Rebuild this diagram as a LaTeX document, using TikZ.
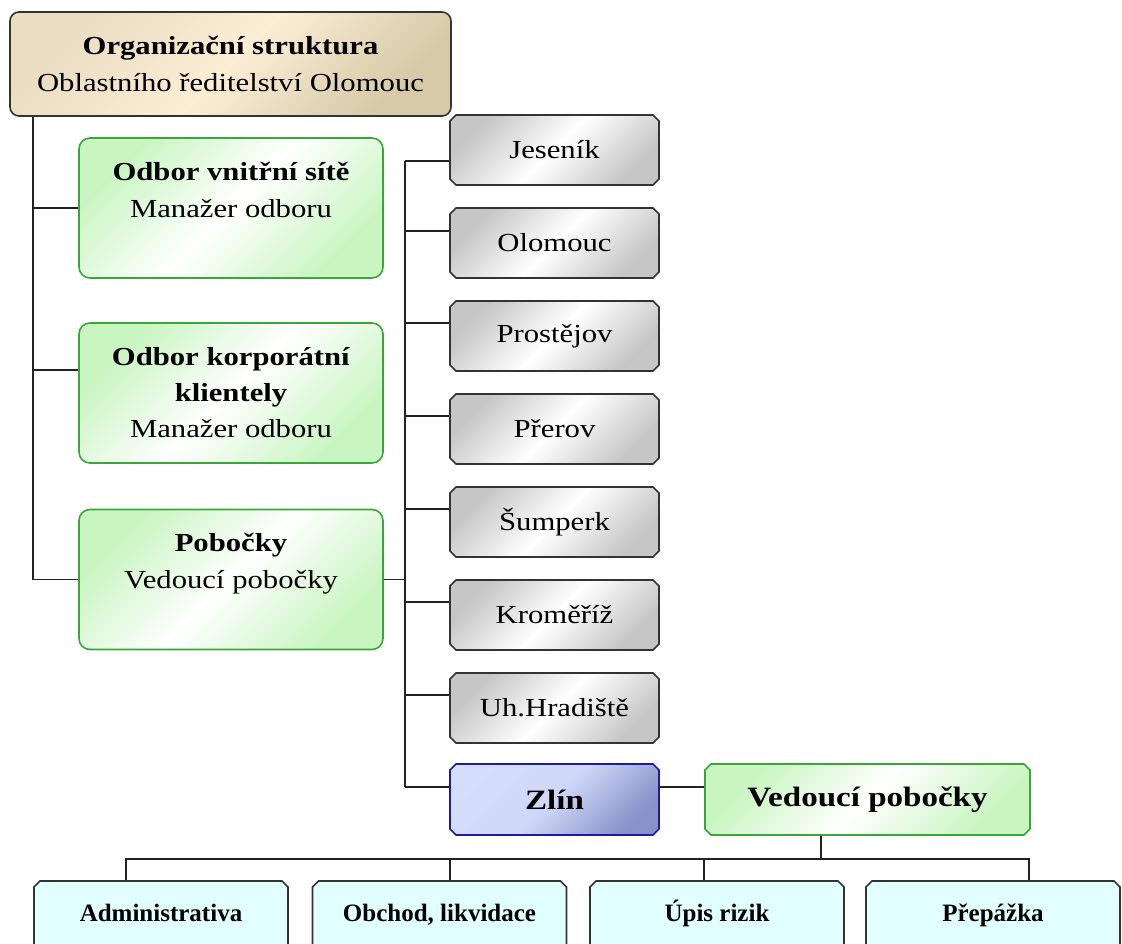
\documentclass[tikz,border=0pt]{standalone}
\usepackage{fontspec}
\setmainfont{Liberation Serif}[FakeStretch=1.18]
\newfontfamily\plainfont{Liberation Serif}
\usetikzlibrary{shapes.misc,calc}
\definecolor{lineclr}{HTML}{222222}
\definecolor{topA}{HTML}{EADDC2}
\definecolor{topB}{HTML}{FCEDD5}
\definecolor{topC}{HTML}{D6CAA8}
\definecolor{grnborder}{HTML}{3AA63A}
\definecolor{grnfill}{HTML}{C8F5C0}
\definecolor{grayfill}{HTML}{C6C6C6}
\definecolor{grayborder}{HTML}{333333}
\definecolor{blueA}{HTML}{D4DDFB}
\definecolor{blueB}{HTML}{8A92CA}
\definecolor{blueborder}{HTML}{1C1CA0}
\definecolor{cyanfill}{HTML}{E2FFFF}
\tikzset{
  conn/.style={draw=lineclr, line width=1.7pt},
  regfont/.style={font=\fontsize{26}{37}\selectfont},
  topbox/.style={rectangle, rounded corners=9pt, draw=grayborder, line width=1.6pt,
    left color=topA, right color=topC, middle color=topB, shading angle=45,
    minimum width=441pt, minimum height=104pt, inner sep=0pt, align=center, regfont},
  greenbox/.style={rectangle, rounded corners=11pt, draw=grnborder, line width=1.6pt,
    left color=grnfill, right color=grnfill, middle color=white, shading angle=45,
    minimum width=304pt, minimum height=140pt, inner sep=0pt, align=center, regfont},
  chambox/.style={chamfered rectangle, chamfered rectangle xsep=3pt, chamfered rectangle ysep=3pt,
    line width=1.6pt, inner sep=0pt, align=center},
  graybox/.style={chambox, draw=grayborder,
    left color=grayfill, right color=grayfill, middle color=white, shading angle=45,
    minimum width=209pt, minimum height=70pt, regfont},
  zlinbox/.style={chambox, draw=blueborder,
    left color=blueA, right color=blueB, middle color=blueA!92!blueB, shading angle=45,
    minimum width=209pt, minimum height=71pt, font=\fontsize{28}{34}\selectfont\bfseries},
  vedbox/.style={chambox, draw=grnborder,
    left color=grnfill, right color=grnfill, middle color=white, shading angle=45,
    minimum width=325pt, minimum height=71pt, font=\fontsize{28}{34}\selectfont\bfseries},
  cyanbox/.style={chambox, draw=grayborder, fill=cyanfill,
    minimum width=254pt, minimum height=96pt, font=\plainfont\fontsize{25}{28}\selectfont\bfseries},
}
\begin{document}
\begin{tikzpicture}[x=1pt,y=-1pt]
\useasboundingbox (0,0) rectangle (1122,944);
\clip (0,0) rectangle (1122,944);

% top
\node[topbox] (top) at (230.5,64) {\textbf{Organizační struktura}\\Oblastního ředitelství Olomouc};

% green boxes
\node[greenbox] (g1) at (231,208) {\textbf{Odbor vnitřní sítě}\\Manažer odboru\\[-12pt]\strut};
\node[greenbox, font=\fontsize{26}{36}\selectfont] (g2) at (231,393) {\textbf{Odbor korporátní}\\\textbf{klientely}\\Manažer odboru};
\node[greenbox] (g3) at (231,579.5) {\textbf{Pobočky}\\Vedoucí pobočky\\[-10pt]\strut};

% gray boxes
\node[graybox] (jes) at (554.5,150) {Jeseník};
\node[graybox] (olo) at (554.5,243) {Olomouc};
\node[graybox] (pro) at (554.5,336) {Prostějov};
\node[graybox] (per) at (554.5,429) {Přerov};
\node[graybox] (sum) at (554.5,522) {Šumperk};
\node[graybox] (kro) at (554.5,615) {Kroměříž};
\node[graybox] (uhh) at (554.5,708) {Uh.Hradiště};
\node[zlinbox] (zli) at (554.5,799.5) {Zlín};
\node[vedbox] (ved) at (867.5,799.5) {Vedoucí pobočky};

% bottom boxes
\node[cyanbox] (adm) at (161,929) {\vphantom{Ú}Administrativa\\\strut};
\node[cyanbox] (obc) at (439.5,929) {\vphantom{Ú}Obchod, likvidace\\\strut};
\node[cyanbox] (upi) at (717,929) {\vphantom{Ú}Úpis rizik\\\strut};
\node[cyanbox] (prp) at (993,929) {\vphantom{Ú}Přepážka\\\strut};

% trunk on the left
\coordinate (tr) at ($(top.south -| top.west)+(24,0)$);
\coordinate (g2c) at ($(g2.north -| g2.west)+(0,48)$);
\draw[conn] (tr) |- (g3.west);
\draw[conn] (tr |- g1.west) -- (g1.west);
\draw[conn] (tr |- g2c) -- (g2c);

% branch trunk
\coordinate (vb) at ($(g3.east)+(21,0)$);
\draw[conn] (g3.east) -- (vb);
\coordinate (c1) at ($(jes.north -| jes.west)+(0,47)$);
\coordinate (c2) at ($(olo.north -| olo.west)+(0,24)$);
\coordinate (c3) at ($(pro.north -| pro.west)+(0,23)$);
\coordinate (c4) at ($(per.north -| per.west)+(0,23)$);
\coordinate (c5) at ($(sum.north -| sum.west)+(0,23)$);
\coordinate (c6) at ($(kro.north -| kro.west)+(0,23)$);
\coordinate (c7) at ($(uhh.north -| uhh.west)+(0,23)$);
\coordinate (c8) at ($(zli.north -| zli.west)+(0,24)$);
\draw[conn] (vb |- c1) -- (vb |- c8);
\foreach \c in {c1,c2,c3,c4,c5,c6,c7,c8} \draw[conn] (vb |- \c) -- (\c);
\draw[conn] (c8 -| zli.east) -- (c8 -| ved.west);

% bus at the bottom
\coordinate (bus) at ($(ved.south -| ved.west)+(117,23)$);
\draw[conn] (bus |- ved.south) -- (bus);
\draw[conn] ($(adm.north -| adm.west)+(93,0)$) |- (bus);
\draw[conn] ($(obc.north -| obc.west)+(138,0)$) |- (bus);
\draw[conn] ($(upi.north -| upi.west)+(115,0)$) |- (bus);
\draw[conn] ($(prp.north -| prp.west)+(164,0)$) |- (bus);
\end{tikzpicture}
\end{document}
